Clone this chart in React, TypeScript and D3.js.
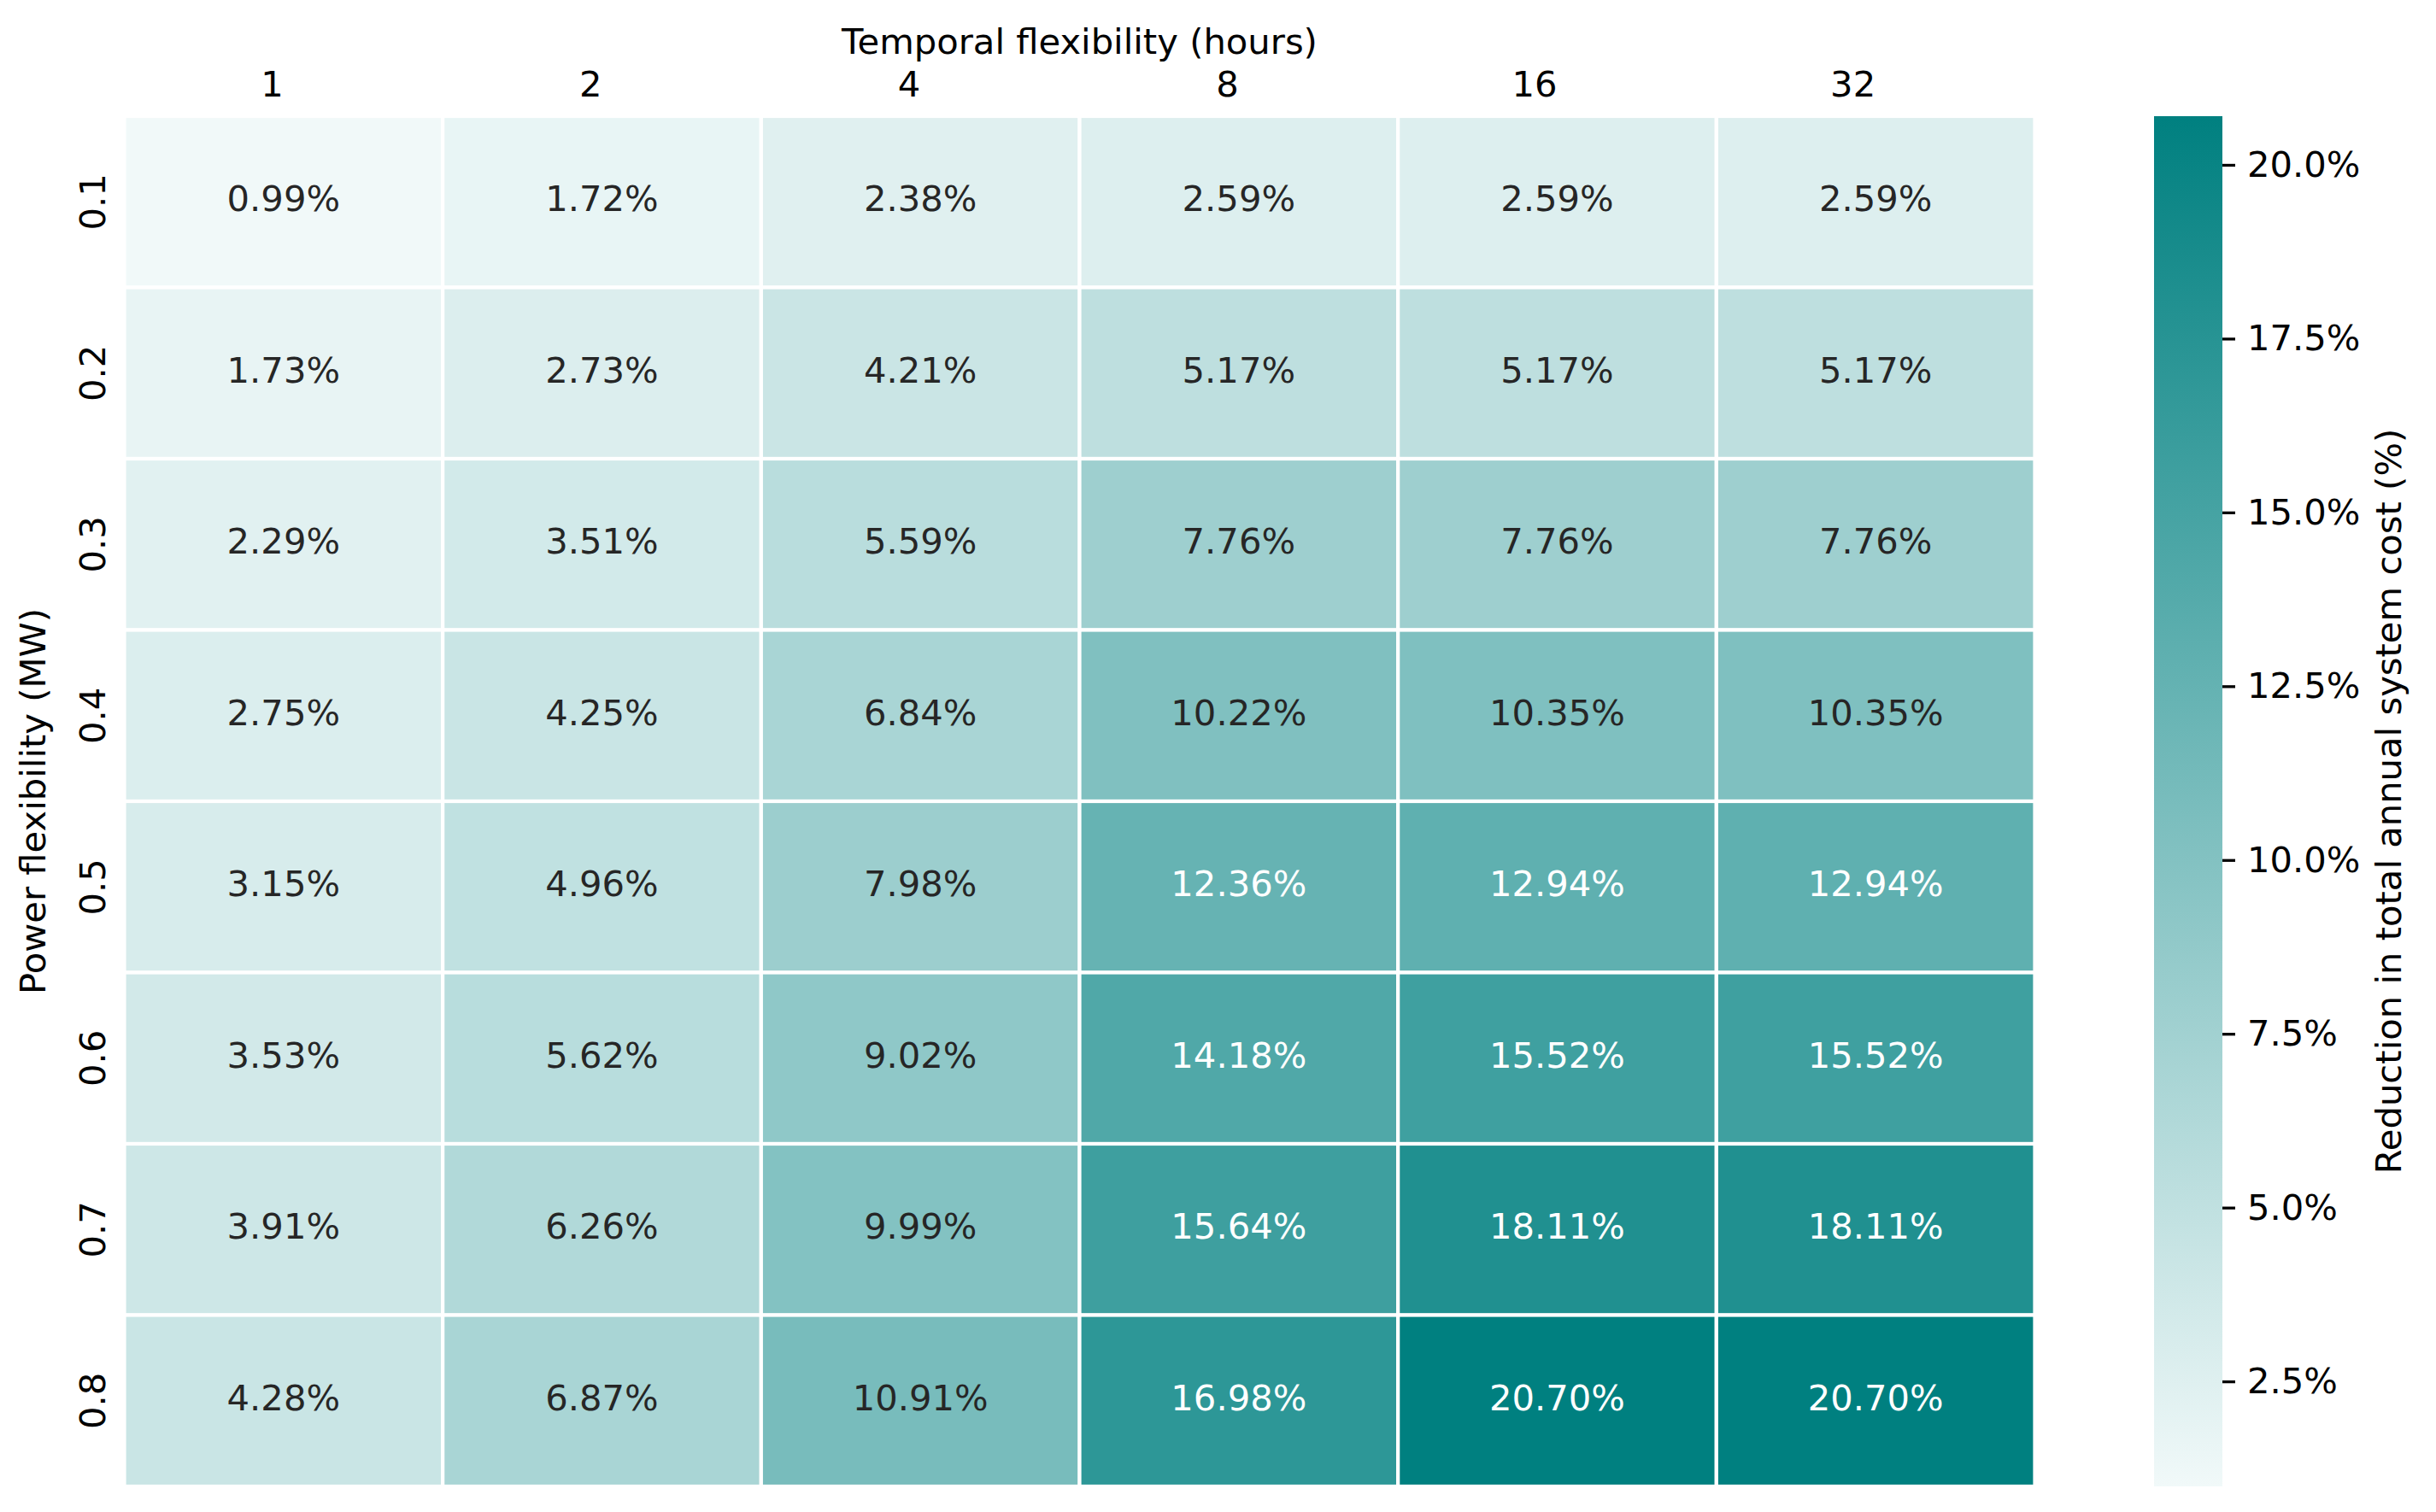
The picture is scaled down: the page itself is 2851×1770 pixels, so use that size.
import React, { useEffect, useRef } from "react";
import * as d3 from "d3";

// temporal flexibility (hours) across, power flexibility (MW) down
const hours = ["1", "2", "4", "8", "16", "32"];
const power = ["0.1", "0.2", "0.3", "0.4", "0.5", "0.6", "0.7", "0.8"];

const row01 = [0.99, 1.72, 2.38, 2.59, 2.59, 2.59];
const row02 = [1.73, 2.73, 4.21, 5.17, 5.17, 5.17];
const row03 = [2.29, 3.51, 5.59, 7.76, 7.76, 7.76];
const row04 = [2.75, 4.25, 6.84, 10.22, 10.35, 10.35];
const row05 = [3.15, 4.96, 7.98, 12.36, 12.94, 12.94];
const row06 = [3.53, 5.62, 9.02, 14.18, 15.52, 15.52];
const row07 = [3.91, 6.26, 9.99, 15.64, 18.11, 18.11];
const row08 = [4.28, 6.87, 10.91, 16.98, 20.7, 20.7];
const rows = [row01, row02, row03, row04, row05, row06, row07, row08];

const cbTicks = [2.5, 5, 7.5, 10, 12.5, 15, 17.5, 20];

const W = 2851;
const H = 1770;
const FONT = "'DejaVu Sans', sans-serif";
const FS = 41.7;

const lowColor = "#f1f9f9";
const highColor = "#008080";

// seaborn-ish relative luminance for picking the annotation colour
const luminance = (c: string) => {
  const rgb = d3.rgb(c);
  const lin = [rgb.r, rgb.g, rgb.b].map((v) => {
    const s = v / 255;
    return s <= 0.03928 ? s / 12.92 : Math.pow((s + 0.055) / 1.055, 2.4);
  });
  return 0.2126 * lin[0] + 0.7152 * lin[1] + 0.0722 * lin[2];
};

const App: React.FC = () => {
  const cbRef = useRef<SVGGElement>(null);

  const left = 145.5, right = 2381.5, top = 136, bottom = 1740;
  const cbLeft = 2521, cbRight = 2601;

  const x = d3.scaleBand<string>().domain(hours).range([left, right]);
  const y = d3.scaleBand<string>().domain(power).range([top, bottom]);

  const all = rows.flat();
  const vmin = d3.min(all) as number;
  const vmax = d3.max(all) as number;
  const color = d3.scaleLinear<string>().domain([vmin, vmax]).range([lowColor, highColor]).interpolate(d3.interpolateRgb);
  const cbY = d3.scaleLinear().domain([vmin, vmax]).range([bottom, top]);

  useEffect(() => {
    document.body.style.margin = "0";
    const g = d3.select(cbRef.current);
    g.selectAll("*").remove();
    g.attr("transform", `translate(${cbRight},0)`)
      .call(
        d3.axisRight(cbY)
          .tickValues(cbTicks)
          .tickSize(15)
          .tickPadding(14)
          .tickFormat((d) => `${(d as number).toFixed(1)}%`)
      );
    g.select(".domain").remove();
    g.selectAll(".tick line").attr("stroke", "#000").attr("stroke-width", 3.3);
    g.selectAll(".tick text")
      .attr("font-family", FONT)
      .attr("font-size", FS)
      .attr("fill", "#000");
  }, []);

  return (
    <svg width={W} height={H} style={{ display: "block", background: "#fff" }}>
      <defs>
        <linearGradient id="cbGrad" x1="0" y1="1" x2="0" y2="0">
          <stop offset="0%" stopColor={lowColor} />
          <stop offset="100%" stopColor={highColor} />
        </linearGradient>
      </defs>

      {rows.map((vals, ri) =>
        vals.map((v, ci) => {
          const fill = color(v);
          const txt = luminance(fill) > 0.408 ? "#262626" : "#ffffff";
          const px = x(hours[ci]) as number;
          const py = y(power[ri]) as number;
          return (
            <g key={`${ri}-${ci}`}>
              <rect x={px} y={py} width={x.bandwidth()} height={y.bandwidth()} fill={fill} stroke="#fff" strokeWidth={4.2} />
              <text
                x={px + x.bandwidth() / 2}
                y={py + y.bandwidth() / 2 - 3.5}
                textAnchor="middle"
                dominantBaseline="central"
                fontFamily={FONT}
                fontSize={FS}
                fill={txt}
              >
                {v.toFixed(2)}%
              </text>
            </g>
          );
        })
      )}

      {hours.map((h) => (
        <text
          key={h}
          x={(x(h) as number) + x.bandwidth() / 2}
          y={113}
          textAnchor="end"
          fontFamily={FONT}
          fontSize={FS}
          fill="#000"
        >
          {h}
        </text>
      ))}

      {power.map((p) => {
        const cy = (y(p) as number) + y.bandwidth() / 2;
        return (
          <text
            key={p}
            transform={`translate(123,${cy}) rotate(-90)`}
            textAnchor="middle"
            fontFamily={FONT}
            fontSize={FS}
            fill="#000"
          >
            {p}
          </text>
        );
      })}

      <text x={(left + right) / 2} y={63} textAnchor="middle" fontFamily={FONT} fontSize={FS} fill="#000">
        Temporal flexibility (hours)
      </text>
      <text
        transform={`translate(53,${(top + bottom) / 2}) rotate(-90)`}
        textAnchor="middle"
        fontFamily={FONT}
        fontSize={FS}
        fill="#000"
      >
        Power flexibility (MW)
      </text>

      <rect x={cbLeft} y={top} width={cbRight - cbLeft} height={bottom - top} fill="url(#cbGrad)" />
      <g ref={cbRef} />
      <text
        transform={`translate(2810,${(top + bottom) / 2}) rotate(-90)`}
        textAnchor="middle"
        fontFamily={FONT}
        fontSize={FS}
        fill="#000"
      >
        Reduction in total annual system cost (%)
      </text>
    </svg>
  );
};

export default App;
